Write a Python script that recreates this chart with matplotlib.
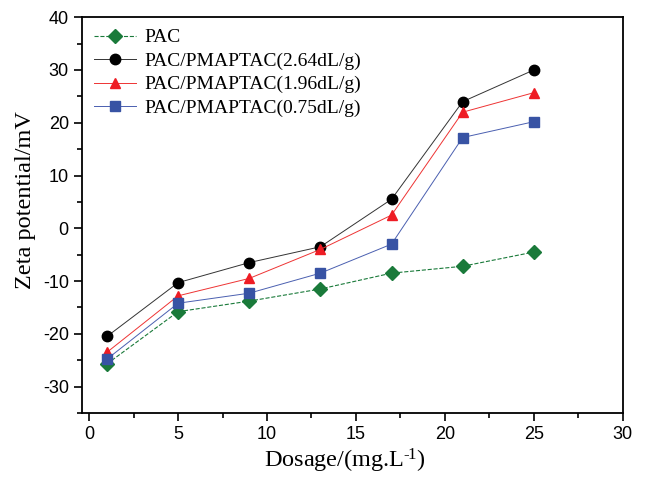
import matplotlib.pyplot as plt
from matplotlib.ticker import MultipleLocator

# Data
dosage = [1, 5, 9, 13, 17, 21, 25]
pac = [-25.7, -15.8, -13.8, -11.5, -8.5, -7.2, -4.5]
pmaptac_264 = [-20.5, -10.3, -6.5, -3.5, 5.5, 24.0, 30.0]
pmaptac_196 = [-23.5, -12.8, -9.5, -4.0, 2.5, 22.0, 25.7]
pmaptac_075 = [-24.8, -14.2, -12.3, -8.5, -3.0, 17.2, 20.2]

labels = ['PAC', 'PAC/PMAPTAC(2.64dL/g)', 'PAC/PMAPTAC(1.96dL/g)', 'PAC/PMAPTAC(0.75dL/g)']

serif = 'Liberation Serif'
sans = 'Liberation Sans'

plt.rcParams['axes.unicode_minus'] = False
plt.rcParams['mathtext.fontset'] = 'custom'
plt.rcParams['mathtext.rm'] = serif
plt.rcParams['mathtext.it'] = serif + ':italic'

fig = plt.figure(figsize=(6.46, 4.78), dpi=100)
ax = fig.add_axes([0.127, 0.136, 0.837, 0.828])

ax.plot(dosage, pac, color='#1a7a3a', linestyle='--', linewidth=0.8,
        marker='D', markersize=7, markerfacecolor='#1a7a3a', markeredgecolor='#1a7a3a', label=labels[0])
ax.plot(dosage, pmaptac_264, color='#333333', linestyle='-', linewidth=0.7,
        marker='o', markersize=7.5, markerfacecolor='black', markeredgecolor='black', label=labels[1])
ax.plot(dosage, pmaptac_196, color='#ee3333', linestyle='-', linewidth=0.7,
        marker='^', markersize=7.5, markerfacecolor='#ee1c24', markeredgecolor='#ee1c24', label=labels[2])
ax.plot(dosage, pmaptac_075, color='#4a5fb0', linestyle='-', linewidth=0.7,
        marker='s', markersize=6.5, markerfacecolor='#3853a4', markeredgecolor='#3853a4', label=labels[3])

ax.set_xlim(-0.4, 30)
ax.set_ylim(-35, 40)
ax.xaxis.set_major_locator(MultipleLocator(5))
ax.xaxis.set_minor_locator(MultipleLocator(2.5))
ax.yaxis.set_major_locator(MultipleLocator(10))
ax.yaxis.set_minor_locator(MultipleLocator(5))
ax.tick_params(which='major', direction='out', length=6, width=1.2, labelsize=13)
ax.tick_params(which='minor', direction='out', length=3.5, width=1.2)
for lbl in ax.get_xticklabels() + ax.get_yticklabels():
    lbl.set_fontfamily(sans)
for sp in ax.spines.values():
    sp.set_linewidth(1.3)

ax.set_xlabel('Dosage/(mg.L$^{\u2010\\!1}$)', fontsize=17.5, fontfamily=serif)
ax.set_ylabel('Zeta potential/mV', fontsize=17.5, fontfamily=serif)
ax.xaxis.set_label_coords(0.486, -0.085)
ax.yaxis.set_label_coords(-0.085, 0.538)

ax.legend(loc='upper left', frameon=False, prop={'family': serif, 'size': 14},
          handlelength=2.2, handletextpad=0.4, borderaxespad=0.2, labelspacing=0.3)

fig.savefig('out.png', dpi=100)
